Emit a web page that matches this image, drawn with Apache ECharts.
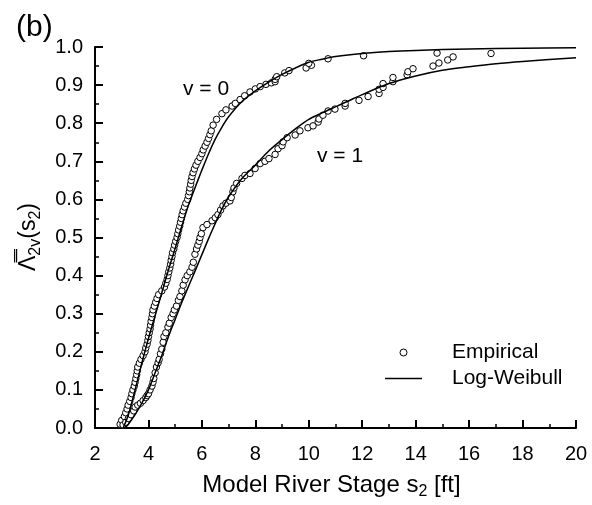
<!DOCTYPE html>
<html>
<head>
<meta charset="utf-8">
<script src="https://cdn.jsdelivr.net/npm/echarts@6/dist/echarts.min.js"></script>
<style>html,body{margin:0;padding:0;background:#fff}#c{width:592px;height:505px}</style>
</head>
<body>
<div id="c"></div>
<script>
// ---- data ----
const xTicks = [2, 4, 6, 8, 10, 12, 14, 16, 18, 20];
const yTicks = [0.0, 0.1, 0.2, 0.3, 0.4, 0.5, 0.6, 0.7, 0.8, 0.9, 1.0];

// Log-Weibull fitted curves
const fitX_v0 = [3.05, 3.25, 3.5, 3.75, 4.0, 4.25, 4.5, 4.75, 5.0, 5.25, 5.5, 5.75, 6.0, 6.25, 6.5, 6.75, 7.0, 7.5, 8.0, 8.5, 9.0, 9.5, 10.0, 10.5, 11.0, 12.0, 13.0, 14.0, 16.0, 18.0, 20.0];
const fitY_v0 = [0.0, 0.035, 0.1, 0.17, 0.235, 0.295, 0.355, 0.415, 0.472, 0.53, 0.585, 0.632, 0.677, 0.72, 0.758, 0.79, 0.817, 0.857, 0.885, 0.908, 0.928, 0.945, 0.96, 0.968, 0.975, 0.983, 0.988, 0.991, 0.995, 0.997, 0.998];
const fitX_v1 = [3.1, 3.25, 3.5, 3.75, 4.0, 4.25, 4.5, 4.75, 5.0, 5.25, 5.5, 5.75, 6.0, 6.25, 6.5, 6.75, 7.0, 7.5, 8.0, 8.5, 9.0, 9.5, 10.0, 10.5, 11.0, 11.5, 12.0, 13.0, 14.0, 15.0, 16.0, 17.0, 18.0, 20.0];
const fitY_v1 = [0.0, 0.01, 0.035, 0.065, 0.1, 0.145, 0.19, 0.24, 0.285, 0.33, 0.372, 0.413, 0.455, 0.497, 0.537, 0.575, 0.607, 0.655, 0.69, 0.727, 0.757, 0.785, 0.81, 0.827, 0.843, 0.859, 0.875, 0.904, 0.924, 0.939, 0.948, 0.956, 0.962, 0.972];

// Empirical points, v = 0
const empX_v0 = [2.94,3.0,3.1,3.15,3.2,3.24,3.3,3.35,3.38,3.42,3.47,3.5,3.53,3.56,3.58,3.6,3.66,3.72,3.8,3.87,3.9,3.95,3.98,4.0,4.03,4.06,4.08,4.1,4.13,4.15,4.17,4.22,4.27,4.32,4.38,4.5,4.6,4.65,4.7,4.73,4.76,4.8,4.83,4.85,4.88,4.9,4.95,4.98,5.02,5.07,5.1,5.13,5.17,5.2,5.23,5.26,5.3,5.35,5.4,5.47,5.5,5.53,5.55,5.58,5.6,5.63,5.67,5.72,5.78,5.85,5.93,6.0,6.05,6.12,6.19,6.25,6.3,6.35,6.42,6.55,6.75,6.9,7.13,7.25,7.43,7.6,7.8,8.0,8.18,8.4,8.6,8.74,8.74,8.8,9.1,9.26,9.9,10.1,10.0,10.72,12.05,14.8,16.82];
const empY_v0 = [0.01,0.02,0.03,0.04,0.05,0.06,0.07,0.08,0.09,0.10,0.11,0.12,0.13,0.14,0.15,0.16,0.17,0.18,0.19,0.20,0.21,0.22,0.23,0.24,0.25,0.26,0.27,0.28,0.29,0.30,0.31,0.32,0.33,0.34,0.35,0.36,0.37,0.38,0.39,0.40,0.41,0.42,0.43,0.44,0.45,0.46,0.47,0.48,0.49,0.50,0.51,0.52,0.53,0.54,0.55,0.56,0.57,0.58,0.59,0.60,0.61,0.62,0.63,0.64,0.65,0.66,0.67,0.68,0.69,0.70,0.71,0.72,0.73,0.74,0.75,0.76,0.77,0.78,0.795,0.81,0.825,0.835,0.845,0.852,0.862,0.872,0.882,0.89,0.896,0.902,0.906,0.909,0.915,0.922,0.932,0.938,0.945,0.952,0.957,0.969,0.977,0.984,0.983];

// Empirical points, v = 1
const empX_v1 = [3.05,3.15,3.25,3.35,3.45,3.5,3.6,3.7,3.8,3.9,3.95,4.0,4.06,4.13,4.17,4.2,4.25,4.3,4.36,4.4,4.45,4.5,4.55,4.58,4.65,4.73,4.78,4.85,4.92,4.97,5.05,5.12,5.18,5.25,5.3,5.37,5.45,5.55,5.63,5.68,5.74,5.8,5.85,5.9,5.93,5.98,6.04,6.19,6.38,6.5,6.6,6.7,6.79,6.9,7.05,7.1,7.16,7.2,7.3,7.5,7.61,7.8,7.99,8.18,8.36,8.51,8.74,8.85,9.0,9.04,9.19,9.49,9.67,9.97,10.16,10.35,10.38,10.53,10.72,10.98,11.36,11.36,11.88,12.22,12.63,12.63,12.78,12.78,13.15,13.15,13.68,13.71,13.9,14.65,14.87,15.2,15.4];
const empY_v1 = [0.008,0.015,0.025,0.035,0.045,0.055,0.06,0.065,0.072,0.08,0.085,0.09,0.10,0.11,0.12,0.13,0.145,0.16,0.171,0.18,0.195,0.207,0.225,0.24,0.25,0.265,0.275,0.29,0.30,0.31,0.32,0.335,0.345,0.36,0.375,0.389,0.40,0.41,0.422,0.435,0.456,0.47,0.48,0.49,0.50,0.51,0.526,0.534,0.544,0.552,0.56,0.572,0.583,0.59,0.596,0.605,0.62,0.63,0.642,0.655,0.663,0.668,0.681,0.694,0.70,0.707,0.718,0.733,0.741,0.751,0.762,0.769,0.78,0.788,0.793,0.803,0.811,0.821,0.832,0.837,0.845,0.852,0.86,0.87,0.878,0.889,0.894,0.904,0.909,0.92,0.927,0.935,0.943,0.95,0.958,0.966,0.974];

// ---- chart ----
const FONT = '"Liberation Sans", Arial, Helvetica, sans-serif';
const pairs = (xs, ys) => xs.map((x, i) => [x, ys[i]]);

const chart = echarts.init(document.getElementById('c'), null, {renderer: 'canvas', width: 592, height: 505});

const axisCommon = {
  type: 'value',
  axisLine: {show: true, onZero: false, lineStyle: {color: '#000', width: 2}},
  axisTick: {show: true, inside: true, length: 8, lineStyle: {color: '#000', width: 2}},
  minorTick: {show: true, splitNumber: 2, length: 4, lineStyle: {color: '#000', width: 1.5}},
  splitLine: {show: false},
  minorSplitLine: {show: false},
  axisLabel: {color: '#000', fontSize: 20, fontFamily: FONT}
};

const lineSeries = (name, xs, ys) => ({
  name: name, type: 'line', data: pairs(xs, ys), symbol: 'none', showSymbol: false,
  smooth: 0.3,
  lineStyle: {color: '#000', width: 1.5}, itemStyle: {color: '#000'}, z: 3
});
const scatterSeries = (name, xs, ys) => ({
  name: name, type: 'scatter', data: pairs(xs, ys), symbol: 'circle', symbolSize: 6.5,
  itemStyle: {color: '#fff', borderColor: '#000', borderWidth: 1, opacity: 1}, z: 2
});

const richTitle = {
  n: {fontSize: 23, fontFamily: FONT, fill: '#000', color: '#000', lineHeight: 29},
  sub: {fontSize: 16, fontFamily: FONT, fill: '#000', color: '#000', lineHeight: 17, verticalAlign: 'bottom'}
};

chart.setOption({
  animation: false,
  backgroundColor: '#fff',
  textStyle: {fontFamily: FONT, color: '#000'},
  title: {text: '(b)', left: 11, top: 8, textStyle: {fontSize: 30, fontWeight: 'normal', fontFamily: FONT, color: '#000'}},
  grid: {left: 95, right: 16, top: 47, bottom: 72},
  xAxis: Object.assign({}, axisCommon, {
    min: xTicks[0], max: xTicks[xTicks.length - 1], interval: 2,
    axisLabel: Object.assign({}, axisCommon.axisLabel, {margin: 16}),
    name: '{n|Model River Stage s}{sub|2}{n| [ft]}',
    nameLocation: 'middle', nameGap: 42,
    nameTextStyle: {padding: [0, 8, 0, 0], rich: {
      n: {fontSize: 24, fontFamily: FONT, color: '#000', lineHeight: 30},
      sub: {fontSize: 16, fontFamily: FONT, color: '#000', lineHeight: 17, verticalAlign: 'bottom'}
    }}
  }),
  yAxis: Object.assign({}, axisCommon, {
    min: yTicks[0], max: yTicks[yTicks.length - 1], interval: 0.1,
    axisLabel: Object.assign({}, axisCommon.axisLabel, {margin: 12, formatter: v => v.toFixed(1)})
  }),
  legend: {
    show: true, orient: 'vertical', left: 380, top: 337, itemGap: 5,
    itemWidth: 37, itemHeight: 7,
    data: [
      {name: 'Empirical', icon: 'circle', itemStyle: {color: '#fff', borderColor: '#000', borderWidth: 1}},
      {name: 'Log-Weibull', icon: 'path://M0,0 L37,0 L37,1.6 L0,1.6 Z', itemStyle: {color: '#000', borderWidth: 0}}
    ],
    textStyle: {fontSize: 21, fontFamily: FONT, color: '#000', padding: [0, 0, 0, 25]}
  },
  graphic: [
    {type: 'text', x: 29, y: 237, rotation: Math.PI / 2,
      style: {text: '{n|\u039B\u033F}{sub|2v}{n|(s}{sub|2}{n|)}', rich: richTitle, align: 'center', verticalAlign: 'middle', fill: '#000'}},
    {type: 'text', left: 183, top: 79, style: {text: 'v = 0', fontSize: 21, fontFamily: FONT, fill: '#000'}},
    {type: 'text', left: 317, top: 146, style: {text: 'v = 1', fontSize: 21, fontFamily: FONT, fill: '#000'}}
  ],
  series: [
    scatterSeries('Empirical', empX_v0, empY_v0),
    scatterSeries('Empirical', empX_v1, empY_v1),
    lineSeries('Log-Weibull', fitX_v0, fitY_v0),
    lineSeries('Log-Weibull', fitX_v1, fitY_v1)
  ]
});
</script>
</body>
</html>
